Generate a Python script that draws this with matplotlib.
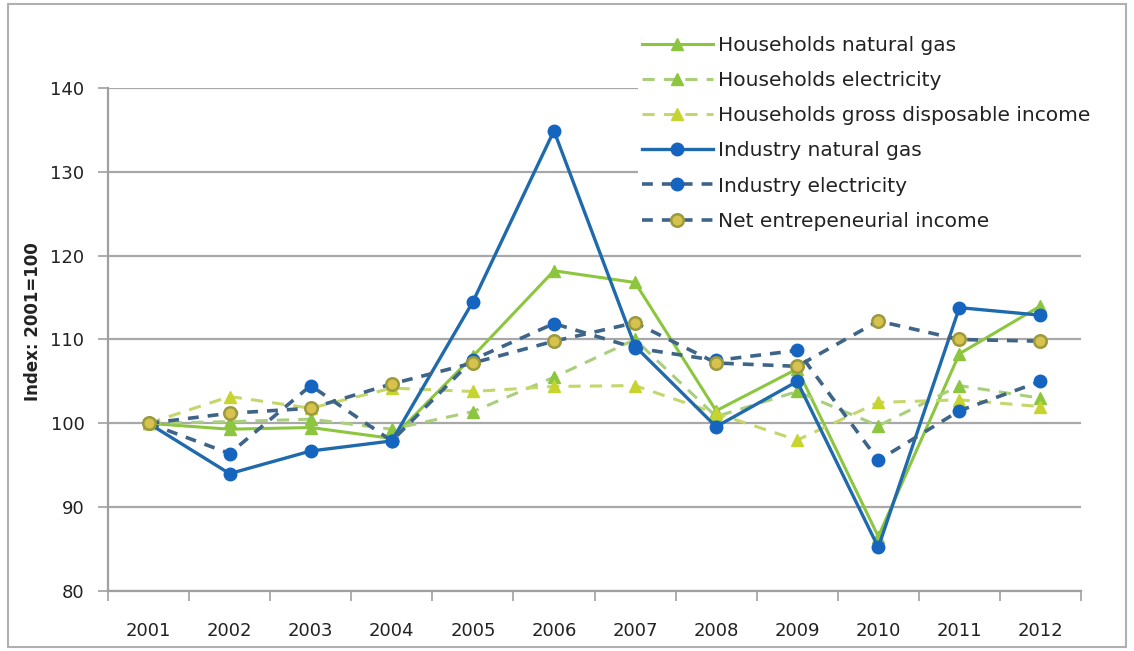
import numpy as np
import matplotlib
matplotlib.use("Agg")
import matplotlib.pyplot as plt
from matplotlib.patches import Rectangle

YEARS = ['2001', '2002', '2003', '2004', '2005', '2006', '2007', '2008', '2009', '2010', '2011', '2012']

hh_gas = [100, 99.3, 99.5, 98.2, 108.0, 118.2, 116.8, 101.5, 106.5, 86.5, 108.3, 114.0]
hh_elec = [100, 100.2, 100.5, 99.3, 101.4, 105.5, 110.0, 100.8, 103.8, 99.7, 104.5, 103.0]
hh_income = [100, 103.2, 101.8, 104.2, 103.8, 104.4, 104.5, 101.2, 98.0, 102.5, 102.8, 102.0]
ind_gas = [100, 94.0, 96.7, 97.9, 114.5, 134.9, 109.2, 99.6, 105.0, 85.2, 113.8, 112.9]
ind_elec = [100, 96.4, 104.5, 97.9, 107.6, 111.9, 109.0, 107.5, 108.7, 95.6, 101.5, 105.0]
net_ent = [100, 101.2, 101.8, 104.7, 107.2, 109.8, 112.0, 107.2, 106.8, 112.2, 110.0, 109.8]

LABELS = ['Households natural gas', 'Households electricity',
          'Households gross disposable income', 'Industry natural gas',
          'Industry electricity', 'Net entrepeneurial income']

plt.rcParams['font.family'] = ['DejaVu Sans']

fig = plt.figure(figsize=(11.34, 6.51), dpi=100)
ax = fig.add_axes([108/1134, 1-591/651, (1081-108)/1134, (591-88)/651])

x = np.arange(len(YEARS))

# households (green / yellow triangles)
ax.plot(x, hh_gas, '-', color='#8cc63f', lw=2.2, marker='^', ms=8,
        mfc='#8cc63f', mec='#8cc63f', label=LABELS[0], zorder=3)
ax.plot(x, hh_elec, '--', color='#a9cf7c', lw=2.2, marker='^', ms=8,
        mfc='#8cc63f', mec='#8cc63f', dashes=(4, 3), label=LABELS[1], zorder=3)
ax.plot(x, hh_income, '--', color='#c5d66a', lw=2.2, marker='^', ms=8,
        mfc='#c8d42e', mec='#c8d42e', dashes=(4, 3), label=LABELS[2], zorder=3)
# industry (blue circles)
ax.plot(x, ind_gas, '-', color='#1f6aad', lw=2.4, marker='o', ms=9,
        mfc='#1565c0', mec='#1565c0', label=LABELS[3], zorder=4)
ax.plot(x, ind_elec, '--', color='#3e6488', lw=2.6, marker='o', ms=9,
        mfc='#1565c0', mec='#1565c0', dashes=(3, 2.5), label=LABELS[4], zorder=4)
ax.plot(x, net_ent, '--', color='#3e6488', lw=2.6, marker='o', ms=9,
        mfc='#d8c24e', mec='#9b9a3c', mew=1.8, dashes=(3, 2.5), label=LABELS[5], zorder=5)

ax.set_xlim(-0.5, len(YEARS) - 0.5)
ax.set_ylim(80, 140)
ax.set_yticks(np.arange(80, 141, 10))
ax.set_xticks(np.arange(-0.5, len(YEARS), 1))
ax.set_xticklabels([])
ax.set_xticks(x, minor=True)
ax.set_xticklabels(YEARS, minor=True)
ax.tick_params(axis='x', which='major', length=7, color='#a0a0a0', width=1.2)
ax.tick_params(axis='x', which='minor', length=0, pad=22, labelsize=13, labelcolor='#222222')
ax.tick_params(axis='y', length=7, color='#a0a0a0', width=1.2, pad=10,
               labelsize=13, labelcolor='#222222')

ax.grid(axis='y', color='#a8a8a8', lw=1.6)
ax.set_axisbelow(True)
for s in ['top', 'right']:
    ax.spines[s].set_visible(False)
for s in ['left', 'bottom']:
    ax.spines[s].set_color('#a0a0a0')
    ax.spines[s].set_linewidth(1.6)

ax.set_ylabel('Index: 2001=100', fontsize=12, fontweight='bold', color='#222222')
ax.yaxis.set_label_coords(-0.068, 0.535)

leg = ax.legend(loc='upper left', bbox_to_anchor=(628/1134, 1-22/651),
                bbox_transform=fig.transFigure, frameon=True, fancybox=False,
                fontsize=14.5, handlelength=3.5, handletextpad=0.25,
                labelspacing=0.8, borderpad=0.2)
leg.get_frame().set_facecolor('white')
leg.get_frame().set_edgecolor('none')
leg.get_frame().set_alpha(1)
leg.set_zorder(10)
for t in leg.get_texts():
    t.set_color('#222222')

# thin border around the whole picture
fig.patches.append(Rectangle((8/1134, 4/651), 1-16/1134, 1-8/651, transform=fig.transFigure,
                             fill=False, edgecolor='#b0b0b0', lw=1.5))

fig.savefig('out.png', dpi=100)
